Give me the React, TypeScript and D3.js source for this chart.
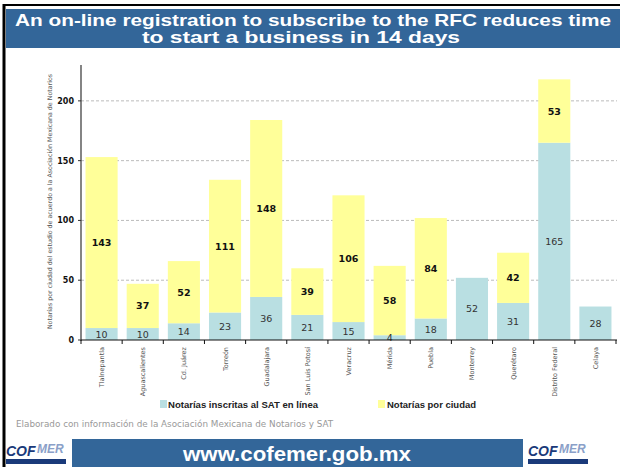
import React from 'react'
import * as d3 from 'd3'

const cities = [
  'Tlalnepantla', 'Aguascalientes', 'Cd. Juárez', 'Torreón', 'Guadalajara',
  'San Luis Potosí', 'Veracruz', 'Mérida', 'Puebla', 'Monterrey',
  'Querétaro', 'Distrito Federal', 'Celaya',
]
const inscritas = [10, 10, 14, 23, 36, 21, 15, 4, 18, 52, 31, 165, 28]
const porCiudad = [143, 37, 52, 111, 148, 39, 106, 58, 84, 0, 42, 53, 0]
const yTicks = [0, 50, 100, 150, 200]

const seriesNames = ['Notarías inscritas al SAT en línea', 'Notarías por ciudad']
const blue = '#b9dfe2'
const yellow = '#ffff99'
const navy = '#336699'

const W = 620
const H = 467
const margin = { left: 81, top: 65 }

const App = () => {
  const x = d3.scaleBand()
    .domain(cities)
    .range([margin.left, 616])
    .paddingInner(0.22)
    .paddingOuter(0.11)

  const y = d3.scaleLinear()
    .domain([0, 230])
    .range([340, margin.top])

  const rows = cities.map((c, i) => ({ city: c, inscritas: inscritas[i], porCiudad: porCiudad[i] }))
  const stacked = d3.stack<any>().keys(['inscritas', 'porCiudad'])(rows)
  const colors = [blue, yellow]

  const tickStep = x.step()

  return (
    <svg width={W} height={H} style={{ position: 'absolute', left: 0, top: 0, background: '#fff' }}
      fontFamily="'DejaVu Sans', Verdana, sans-serif">
      {/* frame */}
      <line x1={4} x2={4} y1={4} y2={H} stroke="#000" strokeWidth={3} />
      <line x1={4} x2={W} y1={5} y2={5} stroke="#000" strokeWidth={2} />

      {/* title */}
      <rect x={6} y={9} width={W - 6} height={39} fill={navy} />
      <g fontFamily="'Liberation Sans', Arial, sans-serif" fontWeight="bold" fill="#fff" fontSize={16.5} textAnchor="middle">
        <text x={313} y={26} textLength={596} lengthAdjust="spacingAndGlyphs">An on-line registration to subscribe to the RFC reduces time</text>
        <text x={301} y={43} textLength={318} lengthAdjust="spacingAndGlyphs">to start a business in 14 days</text>
      </g>

      {/* gridlines */}
      {yTicks.filter(t => t > 0).map(t => (
        <line key={t} x1={margin.left} x2={617} y1={y(t)} y2={y(t)}
          stroke="#aaa" strokeWidth={0.8} strokeDasharray="3,2" />
      ))}

      {/* bars */}
      {stacked.map((s, si) => (
        <g key={s.key}>
          {s.map((d, i) => {
            const h = y(d[0]) - y(d[1])
            if (h <= 0) return null
            return (
              <rect key={i} x={x(cities[i])} width={x.bandwidth()} y={y(d[1])} height={h} fill={colors[si]} />
            )
          })}
        </g>
      ))}

      {/* value labels */}
      {stacked.map((s, si) => (
        <g key={'l' + s.key} textAnchor="middle" fontSize={9.5}
          fontWeight={si === 1 ? 'bold' : 'normal'} fill={si === 1 ? '#111' : '#333'}>
          {s.map((d, i) => {
            const v = d[1] - d[0]
            if (v <= 0) return null
            return (
              <text key={i} x={(x(cities[i]) as number) + x.bandwidth() / 2}
                y={y((d[0] + d[1]) / 2) + 3.5}>{v}</text>
            )
          })}
        </g>
      ))}

      {/* y axis */}
      <line x1={margin.left} x2={margin.left} y1={margin.top} y2={341} stroke="#333" strokeWidth={1.2} />
      {yTicks.map(t => (
        <g key={t}>
          <line x1={margin.left - 3} x2={margin.left} y1={y(t)} y2={y(t)} stroke="#333" />
          <text x={margin.left - 7} y={y(t) + 3} textAnchor="end" fontSize={8} fontWeight="bold" fill="#111">{t}</text>
        </g>
      ))}
      <text transform={`translate(52,${(margin.top + 340) / 2 - 1}) rotate(-90)`} textAnchor="middle"
        fontSize={6.3} fill="#555">
        Notarías por ciudad del estudio de acuerdo a la Asociación Mexicana de Notarios
      </text>

      {/* x axis */}
      <line x1={margin.left} x2={617} y1={340} y2={340} stroke="#111" strokeWidth={1.2} />
      {d3.range(cities.length + 1).map(i => (
        <line key={i} x1={margin.left + i * tickStep} x2={margin.left + i * tickStep}
          y1={340} y2={344} stroke="#111" />
      ))}
      {cities.map(c => (
        <text key={c} transform={`translate(${(x(c) as number) + x.bandwidth() / 2 + 2.5},347) rotate(-90)`}
          textAnchor="end" fontSize={6.5} fill="#555">{c}</text>
      ))}

      {/* legend */}
      <g fontFamily="'Liberation Sans', Arial, sans-serif" fontSize={9.8} fontWeight="bold" fill="#222">
        <rect x={160} y={400} width={7} height={8} fill={blue} />
        <text x={168} y={408} textLength={150} lengthAdjust="spacingAndGlyphs">{seriesNames[0]}</text>
        <rect x={378} y={400} width={7} height={8} fill={yellow} />
        <text x={387} y={408} textLength={89} lengthAdjust="spacingAndGlyphs">{seriesNames[1]}</text>
      </g>

      {/* source */}
      <text x={16} y={427} fontSize={8.8} fill="#999">
        Elaborado con información de la Asociación Mexicana de Notarios y SAT
      </text>

      {/* footer */}
      <rect x={72} y={439} width={451} height={H - 439} fill={navy} />
      <text x={297} y={461} textAnchor="middle" fill="#fff" fontSize={20} fontWeight="bold"
        fontFamily="'Liberation Sans', Arial, sans-serif" textLength={228} lengthAdjust="spacingAndGlyphs">www.cofemer.gob.mx</text>
      {[6, 528].map(lx => (
        <g key={lx} fontFamily="'Liberation Sans', Arial, sans-serif" fontStyle="italic" fontWeight="bold">
          <text x={lx} y={456} fontSize={14} fill="#1a3a7a">CO</text>
          <text x={lx + 21} y={456} fontSize={14} fill="#1a3a7a">F</text>
          <text x={lx + 31} y={453} fontSize={12} fill="#8aa0c8">MER</text>
          <rect x={lx} y={459} width={60} height={5} fill="#1a3a7a" />
        </g>
      ))}
    </svg>
  )
}

export default App
